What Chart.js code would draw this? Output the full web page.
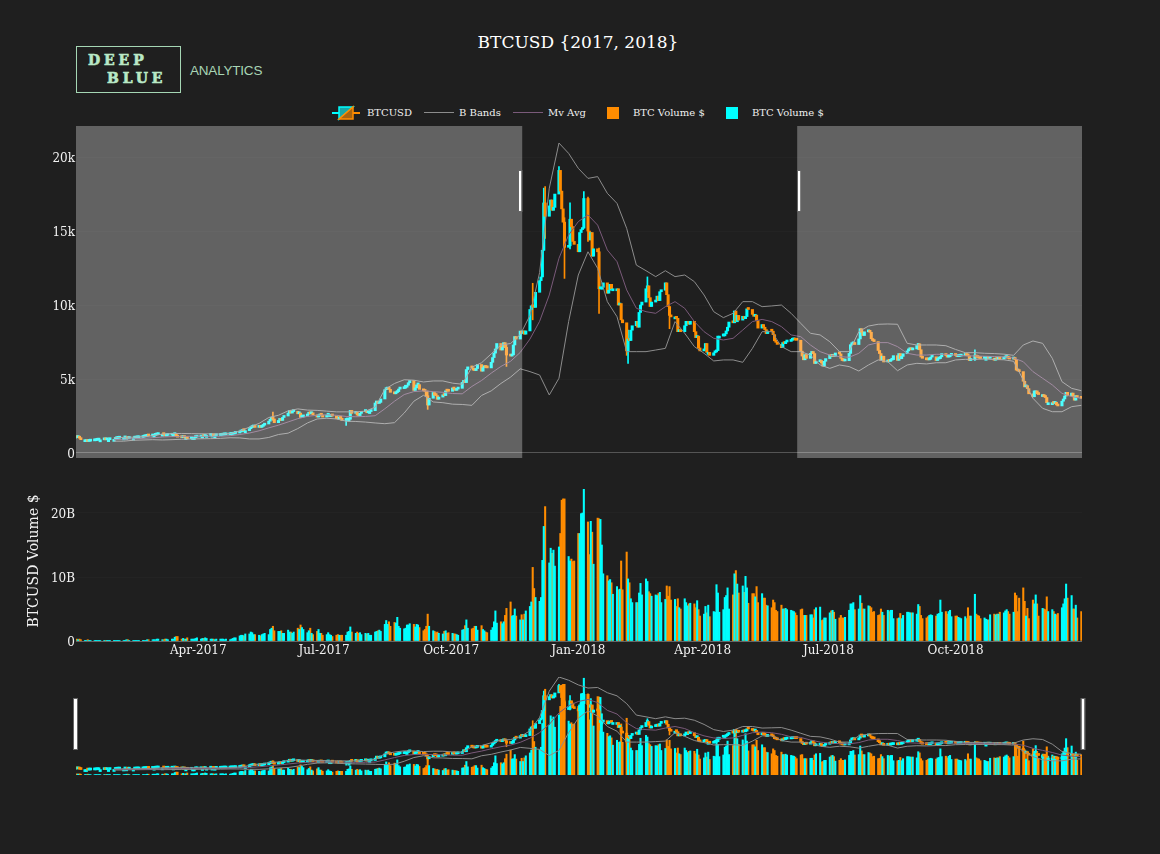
<!DOCTYPE html>
<html><head><meta charset="utf-8">
<style>
html,body{margin:0;padding:0;background:#1f1f1f;width:1160px;height:854px;overflow:hidden;font-family:'DejaVu Serif',serif}
.abs{position:absolute}
canvas{position:absolute;left:0}
.lg{position:absolute;top:107px;font-size:10px;line-height:12px;color:#f0f0f0;white-space:nowrap}
.logo{color:#b9e8c6;font:900 14px/15px 'DejaVu Serif';letter-spacing:3.9px;-webkit-text-stroke:.6px #b9e8c6}
</style>
<script src="https://cdn.jsdelivr.net/npm/chart.js@4"></script>
</head><body>
<div class="abs" style="left:378px;width:400px;top:32px;text-align:center;color:#fff;font-size:17px;line-height:20px">BTCUSD {2017, 2018}</div>
<div class="abs" style="left:76px;top:46px;width:103px;height:45px;border:1px solid #a5d6b4"></div>
<div class="abs logo" style="left:88px;top:53px">DEEP</div>
<div class="abs logo" style="left:107px;top:71px">BLUE</div>
<div class="abs" style="left:190px;top:63px;color:#a8d5b5;font:13.5px/16px 'Liberation Sans';letter-spacing:-.2px">ANALYTICS</div>
<svg class="abs" style="left:330px;top:104px" width="32" height="18">
<line x1="2" x2="9" y1="9" y2="9" stroke="#00ffff" stroke-width="2"/><line x1="23" x2="30" y1="9" y2="9" stroke="#ff8c00" stroke-width="2"/>
<polygon points="9,3 23,3 9,15" fill="#17a8a8" stroke="#00ffff" stroke-width="1.5"/><polygon points="23,3 23,15 9,15" fill="#a8640f" stroke="#ff8c00" stroke-width="1.5"/>
</svg>
<div class="lg" style="left:367px">BTCUSD</div>
<div class="abs" style="left:424px;top:112px;width:30px;height:1px;background:#8c8c8c"></div>
<div class="lg" style="left:459px">B Bands</div>
<div class="abs" style="left:513px;top:112px;width:30px;height:1px;background:#7a5a7a"></div>
<div class="lg" style="left:548px">Mv Avg</div>
<div class="abs" style="left:607px;top:107px;width:12px;height:12px;background:#ff8c00"></div>
<div class="lg" style="left:633px">BTC Volume $</div>
<div class="abs" style="left:726px;top:107px;width:12px;height:12px;background:#00ffff"></div>
<div class="lg" style="left:752px">BTC Volume $</div>
<canvas id="main" style="top:126px;width:1160px;height:332px" width="1160" height="332"></canvas>
<canvas id="vol" style="top:481px;width:1160px;height:184px" width="1160" height="184"></canvas>
<canvas id="mini" style="top:677px;width:1160px;height:98px" width="1160" height="98"></canvas>
<script>
const closes = [
1080,1040,1120,1000,900, 900,900,780,800,820, 830,860,870,890,890, 920,890,900,900,920,
920,970,990,1000,1020, 1020,1050,1050,980,1000, 1000,1010,1020,1030,1050, 1080,1100,1130,1170,1150,
1190,1190,1220,1240,1270, 1270,1240,1150,1190,1200, 1240,1240,1260,1170,1070, 1040,1120,1040,1040,960,
1040,1040,1040,1070,1080, 1140,1140,1120,1190,1190, 1210,1210,1170,1170,1180, 1190,1210,1220,1230,1240,
1250,1260,1280,1320,1350, 1420,1450,1520,1510,1510, 1640,1720,1760,1800,1730, 1740,1730,1800,1880,1960,
2150,2280,2400,2300,2050, 2200,2280,2200,2400,2500, 2700,2870,2700,2800,2820, 2650,2700,2400,2440,2500,
2620,2690,2650,2700,2580, 2430,2500,2560,2550,2430, 2550,2600,2600,2600,2500, 2330,2300,2400,2350,2200,
2230,2280,2280,2880,2680, 2760,2560,2530,2680,2800, 2860,2720,2800,2800,2860, 3380,3400,3350,3420,3650,
4280,4320,4360,4300,4100, 4000,4080,4150,4320,4350, 4380,4580,4580,4750,4900, 4230,4400,4600,4620,4300,
4200,4160,3870,3240,3700, 4090,3910,3880,3630,3780, 3930,3880,4200,4180,4170, 4400,4320,4230,4320,4370,
4770,4830,4760,5640,5820, 5750,5600,5570,5710,5980, 5530,5760,5900,5780,5750, 6130,6450,6750,7030,7400,
6960,7130,7460,7140,6620, 6550,6630,7300,7870,7700, 8240,8080,8250,8030,8250, 9700,9950,9880,9840,10860,
11650,11900,13700,16900,16000, 16700,17100,16400,16600,17500, 19100,17700,16500,15600,13900, 14000,15800,15300,14300,14100,
13600,14900,15100,15200,17200, 15000,14400,14900,13300,13800, 13600,11100,11200,11200,11500, 10800,11000,11400,11100,11100,
11100,10000,10100,9000,8800, 6900,7700,7600,8300,8600, 8900,8500,9500,10000,10200, 11100,11300,10500,9900,10200,
10300,10600,10300,10900,11000, 11500,10700,9900,9300,9200, 9200,9100,8200,8300,8200, 8600,8900,8900,8700,8900,
8200,7800,7900,7100,6900, 7000,7400,6800,6800,6600, 6770,6830,6920,7900,7900, 8050,8050,8250,8500,8850,
8800,9600,8870,9300,8980, 9240,9080,9220,9740,9700, 9370,9240,9320,8950,8440, 8680,8500,8340,8070,8240,
8230,8000,7580,7480,7340, 7120,7460,7390,7500,7540, 7620,7650,7680,7630,7620, 6880,6550,6300,6650,6400,
6730,6770,6720,6050,6170, 6250,6080,5870,6200,6380, 6620,6530,6600,6530,6760, 6700,6400,6250,6220,6240,
6730,7320,7380,7470,7330, 7710,8400,8170,7940,8190, 8220,8160,7720,7600,7530, 6930,6720,6280,6540,6150,
6270,6190,6270,6310,6580, 6260,6720,6370,6530,6710, 6900,6980,7090,6970,7030, 7260,7380,6980,6490,6400,
6300,6290,6330,6480,6500, 6250,6350,6380,6500,6720, 6590,6480,6500,6600,6640, 6590,6510,6530,6550,6590,
6620,6590,6560,6250,6300, 6620,6480,6460,6400,6390, 6400,6400,6420,6400,6410, 6270,6340,6330,6370,6350,
6420,6450,6520,6400,6350, 6380,6320,5600,5550,5500, 4850,4470,4550,4350,4000, 3800,4200,4200,4000,3950,
3950,3800,3750,3400,3400, 3400,3350,3430,3250,3180, 3500,3650,3850,4100,3870, 4050,3810,3570,3880,3750, 3690];
const firstOpen = 1000;
const wickIndex = [103,140,183,224,237,243,244,250,254,256,264,265,271,285,286,296,308,436,465];
const wickHigh  = [2770,2300,4190,7300,11470,17900,18000,19350,15900,16900,17660,17300,13850,8400,8300,11900,9500,7410,6970];
const wickLow   = [2200,1870,2950,5850,9000,13700,14500,18300,11800,13800,15200,14300,9440,6600,6060,10900,8400,6980,6250];
const volumes = [
.1,.3,.2,.3,.2, .1,.1,.2,.1,.1, .1,.1,.1,.1,.1, .1,.1,.1,.1,.1, .1,.1,.1,.1,.1, .1,.1,.2,.2,.1, .1,.1,.1,.1,.1, .1,.1,.1,.2,.2,
.2,.2,.2,.3,.3, .2,.2,.3,.3,.2, .3,.3,.6,.7,.7, .3,.4,.3,.3,.5, .3,.3,.3,.4,.5, .3,.4,.4,.5,.4, .3,.3,.3,.2,.3, .3,.3,.3,.2,.3,
.2,.3,.4,.5,.5, .8,.9,.9,.8,1.1, 1.1,1.4,1.3,1,1, .9,.8,1,1.1,1.2, 1,1.8,2,2.3,1.6, 1.5,1.5,1.6,1.2,1.2, 1.7,1.4,1.4,1.2,1.4, 2,1.8,2.5,2.1,1.8,
1.3,1.6,2,1.2,1, 1.5,1.8,1.2,1.2,.9, 1,1.3,1,.9,.7, .9,1,.9,.9,.9, .9,1.4,1.5,2.2,1.4, 1.2,1.4,1.2,1.3,1, 1.2,1.1,1.2,.9,.9, 1.4,1.5,1.6,1.7,1.5,
2.6,3.2,2.6,3,2.3, 2.9,2.8,3.7,2.3,2, 1.9,2,2.5,2.5,2.7, 2.6,2.2,2.6,2.5,2.1, 1.6,1.8,2.3,4.2,2.3, 1.6,1.5,1.3,1.4,1.2, 1.1,1.5,1.6,1.2,1.3, 1.2,1.1,1.1,1,.9,
1.7,1.8,2.4,3.3,2, 1.9,2,2.3,2.3,1.7, 2.4,1.8,1.6,1.4,1.3, 1.7,2.1,3,4.7,2.8, 3,2.7,3,4,5.1, 6.1,3.9,4,5,3.9, 3.3,4.1,3.3,4.2,4.7, 5.4,6.1,11.5,8.2,6.8,
6.2,6.8,12.6,17.9,21, 12.2,14.5,13.7,14.2,11.7, 14.7,16.8,22,22.2,22.2, 13.2,12.5,12.8,12.4,12.5, 16.8,16.8,19.9,20,23.7, 18.6,13.5,18.7,17,12, 19.2,19.1,19,15,10.5, 10.2,9.4,9.6,9.1,7.3,
8.5,8,8.1,12.5,8, 13.9,9.7,9.1,6.6,6, 6,6,7.5,9,7.2, 9.7,9.3,7.7,7.4,7, 7.2,7.1,7.4,7.6,6, 6.5,8.6,7,8.5,6.4, 6.5,5.4,6.6,5.2,5, 6.6,6,5.5,5.8,5.9,
5.8,5.2,6.3,4.9,3.9, 4.2,5.4,4.4,5.6,3.8, 4.6,4.5,8.8,7.5,4.5, 4.9,6.8,7.1,8.3,5, 7.2,10.5,11,8.9,7.5, 8.6,7.6,10.1,8.3,5.9, 7.4,7.4,6.9,8.5,6, 7.4,6.7,6.7,5.6,5.5,
5.2,6.4,6,4.8,4.6, 5.6,5,5,5.1,4.9, 4.8,4.7,4.6,4.4,4, 4.9,5,4,4,4, 4.1,4.1,3.6,4.9,5.2, 5.3,3.2,3.3,3.6,3.6, 4.4,4.7,4.8,4.5,3.4, 3.6,4,3.6,3.6,3.7,
4.8,5.8,5.8,6,4.9, 5,7.1,5.9,5,5, 5.5,5.4,5.2,4.5,4.6, 4,4.1,5,4.5,4, 4.8,4.6,4.8,4.8,3.5, 3.5,3.6,4.3,3.5,4, 4.5,4.5,4.4,4.4,4.4, 4.2,5.7,5.4,4,3.5,
3.6,3.8,4,4.1,4, 3.9,4.2,4.3,6.4,4.5, 4.6,4.2,4.6,4.8,3.8, 3.9,3.9,3.7,3.6,3.5, 3.8,3.5,5.2,3.9,3.9, 7.3,4.2,4,3.9,3.5, 3.6,3.4,3.3,3.3,4.1, 4.2,4.1,4.2,4.2,4.5,
4.4,4.7,4.9,4.6,4.2, 4.5,7.5,7.1,4.6,6.7, 8.3,6.2,3.9,5.1,3.5, 6.4,5.8,7.2,5.8,3.9, 5.1,5,4.9,6.9,4.6, 4.9,4.6,4.2,4.1,4.3, 5.2,5.8,6.6,8.9,6.7, 7.1,5,5,5.6,3.6, 4.6];
const bandUpper = [1020,1060,1070,1100,1170,1280,1310,1320,1310,1300,1290,1280,1310,1480,1750,2000,2400,2550,2850,2980,2900,2880,2830,2780,2780,2780,2830,3100,4300,4700,4950,4920,4800,4870,4870,4720,4650,5800,6100,6700,7300,7400,8000,9300,12200,17900,20950,20250,19240,18560,18680,17550,16870,15180,12700,12320,11920,12320,11920,12030,11580,10680,9550,9150,9440,10230,10230,9890,9940,10000,9440,8760,8090,7980,7520,6850,6850,8200,8580,8700,8720,8700,7410,7300,7300,7300,7250,7000,6780,6780,6740,6720,6680,6600,7300,7570,7410,6400,4820,4370,4210];
const bandLower = [800,800,860,880,900,880,900,930,950,960,970,990,1030,1020,950,950,1050,1250,1340,1650,2030,2300,2350,2300,2150,2130,2090,2030,1980,2050,2700,3500,3900,3450,3400,3300,3280,3220,3890,4200,4700,5130,5690,5500,5270,3920,5050,8880,12030,13600,12480,10230,9210,6850,6850,6850,6960,7070,8880,8090,7190,6740,6220,6290,6290,6130,7070,8200,8200,7190,6850,6850,6620,5950,5720,5950,5840,5540,5950,6290,6170,5560,5950,6060,6020,6100,6100,6290,6330,6330,6350,6320,6300,6200,4930,3700,3020,2790,2790,3130,3220];
const bandMean  = [900,930,960,990,1030,1080,1110,1125,1130,1130,1130,1135,1170,1250,1350,1500,1700,1880,2100,2320,2480,2550,2580,2550,2470,2450,2470,2520,2990,3500,3950,4150,4200,4150,4100,4020,4000,4500,4900,5400,5850,6200,6800,7700,8900,10680,13160,14730,15640,16090,15400,13720,12930,11020,9780,9550,9440,9890,10230,9780,8880,8200,7750,7640,7750,8310,8880,9030,8880,8540,7980,7860,7300,6850,6620,6510,6470,6740,7300,7460,7460,7190,6740,6620,6620,6670,6670,6620,6560,6560,6540,6520,6500,6420,6170,5500,5050,4600,4030,3810,3700];
const priceTicks = [0,5000,10000,15000,20000];
const priceTickLabels = ['0','5k','10k','15k','20k'];
const volumeTicks = [0,10,20];
const volumeTickLabels = ['0','10B','20B'];
const dateTicks = [90,181,273,365,455,546,638];
const dateTickLabels = ['Apr-2017','Jul-2017','Oct-2017','Jan-2018','Apr-2018','Jul-2018','Oct-2018'];
const selectedRange = [324.4,523.4];
const dayRange = [1.5,729.5];
const UP='#00ffff', DOWN='#ff8c00', BAND='#8c8c8c', MEAN='#7a5a7a', FONT="'DejaVu Serif'";

const dayOf = i => 1 + 7*Math.floor(i/5) + i%5;
const opens = closes.map((c,i)=> i ? closes[i-1] : firstOpen);
const bandDay = i => i<100 ? 29+7*i : 729;
const isUp = i => closes[i] >= opens[i];
const colors = closes.map((c,i)=> isUp(i)?UP:DOWN);
function candleSets(yID){
  const wicks = wickIndex.map((idx,k)=>({x:dayOf(idx),y:[wickLow[k],wickHigh[k]]}));
  return [
   {label:'BTCUSD wick',data:wicks,yAxisID:yID,barThickness:1,grouped:false,backgroundColor:wickIndex.map(i=>colors[i]),order:3},
   {label:'BTCUSD',data:closes.map((c,i)=>({x:dayOf(i),y:[opens[i],c]})),yAxisID:yID,barThickness:2.4,minBarLength:2,grouped:false,backgroundColor:colors,order:2}
  ];
}
function bandSets(yID){
  const mk=(label,arr,color)=>({type:'line',label,data:arr.map((v,i)=>({x:bandDay(i),y:v})),yAxisID:yID,borderColor:color,borderWidth:1,pointRadius:0,fill:false,tension:0,order:1});
  return [mk('B Bands',bandUpper,BAND),mk('Mv Avg',bandMean,MEAN),mk('B Bands lower',bandLower,BAND)];
}
function volSets(yID){
  const pick = up => volumes.map((v,i)=>({x:dayOf(i),y:v,up:isUp(i)})).filter(o=>o.up===up);
  return [
   {label:'BTC Volume $',data:pick(false),yAxisID:yID,barThickness:1.4,grouped:false,backgroundColor:DOWN,order:5},
   {label:'BTC Volume $',data:pick(true),yAxisID:yID,barThickness:1.4,grouped:false,backgroundColor:UP,order:4}
  ];
}
const xAxis = extra => Object.assign({type:'linear',min:dayRange[0],max:dayRange[1],offset:false,display:false,grid:{display:false}},extra||{});
const tickFont = {family:FONT,size:12};
const noYPad = s=>{
  s.width=76;s.paddingTop=0;s.paddingBottom=0;
  if(!s._labelNudged && typeof s._computeLabelItems==='function'){
    const orig=s._computeLabelItems;s._labelNudged=true;
    s._computeLabelItems=function(a){const items=orig.call(this,a);items.forEach(it=>{it.textOffset+=1.5});return items};
  }
};
const base = (padL,padR)=>({responsive:false,animation:false,events:[],devicePixelRatio:1,
  layout:{padding:{left:padL,right:padR,top:0,bottom:0}},
  plugins:{legend:{display:false},tooltip:{enabled:false},title:{display:false}}});
const fixedTicks = (vals,labels)=>({
  afterBuildTicks:s=>{s.ticks=vals.map(v=>({value:v}))},
  ticks:{color:'#f2f2f2',font:tickFont,padding:1,autoSkip:false,maxRotation:0,callback:v=>{const k=vals.indexOf(v);return k<0?'':labels[k]}}
});
const handle=(ctx,x,top,bottom,w)=>{ctx.save();ctx.fillStyle='#fff';ctx.strokeStyle='#666';ctx.lineWidth=1;ctx.fillRect(x-w/2,top,w,bottom-top);ctx.strokeRect(x-w/2-.5,top-.5,w+1,bottom-top+1);ctx.restore();};

new Chart(document.getElementById('main'),{type:'bar',
 data:{datasets:[...candleSets('y'),...bandSets('y')]},
 options:Object.assign(base(0,78),{scales:{x:xAxis(),
   y:Object.assign({min:-338,max:22100,afterFit:noYPad,border:{display:false},
     grid:{drawTicks:false,color:c=>c.tick&&c.tick.value===0?'#555555':'rgba(255,255,255,0.02)'}},fixedTicks(priceTicks,priceTickLabels))}}),
 plugins:[{id:'selection',afterDatasetsDraw(ch){
   const {ctx,chartArea:a,scales:{x}}=ch,l=x.getPixelForValue(selectedRange[0]),r=x.getPixelForValue(selectedRange[1]);
   ctx.save();ctx.fillStyle='rgba(255,255,255,0.3)';
   ctx.fillRect(a.left,a.top,l-a.left,a.bottom-a.top);ctx.fillRect(r,a.top,a.right-r,a.bottom-a.top);ctx.restore();
   handle(ctx,l-2,45,85,2.5);handle(ctx,r+2,45,85,2.5);
 }}]});

new Chart(document.getElementById('vol'),{type:'bar',
 data:{datasets:volSets('y')},
 options:Object.assign(base(0,78),{scales:{
   x:Object.assign(xAxis({display:true,afterFit:s=>{s.height=24;s.paddingLeft=0;s.paddingRight=0},border:{display:false},grid:{display:false,drawTicks:false,tickLength:0}}),{
     afterBuildTicks:s=>{s.ticks=dateTicks.map(v=>({value:v}))},
     ticks:{color:'#f2f2f2',font:tickFont,padding:3,autoSkip:false,maxRotation:0,callback:v=>dateTickLabels[dateTicks.indexOf(v)]}}),
   y:Object.assign({min:0,max:25,afterFit:noYPad,border:{display:false},
     title:{display:true,text:'BTCUSD Volume $',color:'#f2f2f2',font:{family:FONT,size:14},padding:{top:26,bottom:0}},
     grid:{drawTicks:false,color:c=>c.tick&&c.tick.value===0?'#666666':'rgba(255,255,255,0.02)'}},fixedTicks(volumeTicks,volumeTickLabels))}})});

new Chart(document.getElementById('mini'),{type:'bar',
 data:{datasets:[...volSets('yv'),...candleSets('yp'),...bandSets('yp')]},
 options:Object.assign(base(76,78),{scales:{x:xAxis(),
   yv:{display:false,min:0,max:24},
   yp:{display:false,min:-280,max:20950}}}),
 plugins:[{id:'miniHandles',afterDatasetsDraw(ch){
   const a=ch.chartArea;handle(ch.ctx,a.left-.5,22,72,3);handle(ch.ctx,a.right+1,22,72,3);
 }}]});
</script>
</body></html>
